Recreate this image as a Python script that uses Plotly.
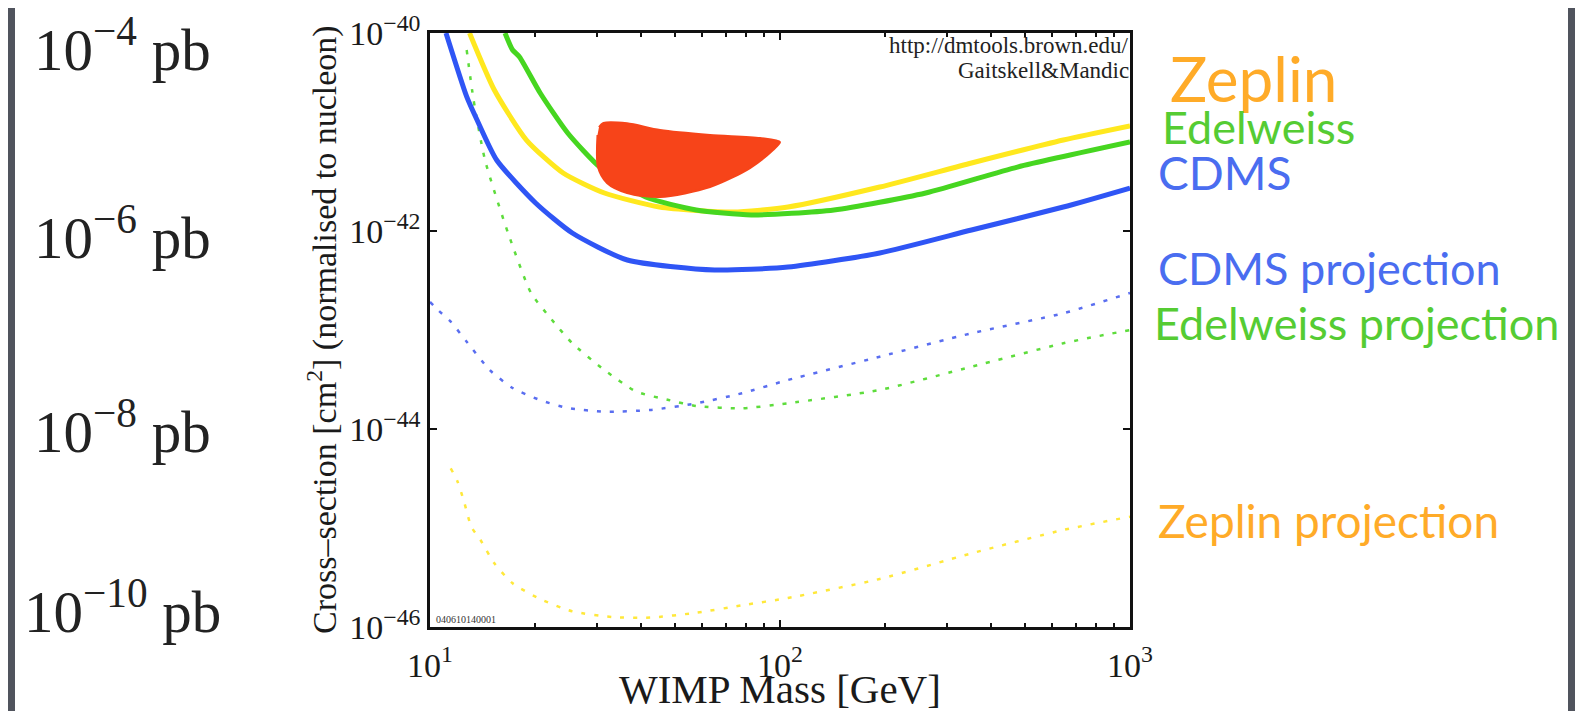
import plotly.graph_objects as go

# ---------------- data (WIMP mass in GeV, log10 cross-section in cm^2) ----------------
cdms_mass = [11.11, 12.73, 13.63, 15.50, 20.03, 25.50, 36.62, 65.02, 105.4, 192.7, 352.5, 644.9, 1000]
cdms_logsig = [-40.00, -40.643, -40.879, -41.283, -41.717, -42.020, -42.293, -42.394, -42.364, -42.222, -41.990, -41.758, -41.566]

zeplin_mass = [12.97, 15.27, 18.86, 24.01, 31.50, 45.26, 73.34, 105.4, 192.7, 352.5, 644.9, 1000]
zeplin_logsig = [-40.00, -40.576, -41.081, -41.414, -41.616, -41.758, -41.808, -41.758, -41.556, -41.313, -41.081, -40.939]

edel_mass = [16.38, 17.22, 18.02, 20.64, 24.74, 30.56, 41.33, 57.63, 82.79, 142.6, 260.8, 476.9, 1000]
edel_logsig = [-40.00, -40.172, -40.242, -40.606, -41.010, -41.354, -41.657, -41.788, -41.838, -41.788, -41.616, -41.354, -41.101]

cdms_proj_mass = [10.0, 10.61, 11.46, 12.73, 14.81, 17.22, 20.62, 24.74, 31.50, 42.6, 57.63, 77.88, 105.4, 192.7, 352.5, 644.9, 1000]
cdms_proj_logsig = [-42.717, -42.808, -42.916, -43.118, -43.404, -43.586, -43.707, -43.788, -43.825, -43.808, -43.741, -43.639, -43.505, -43.270, -43.033, -42.831, -42.626]

edel_proj_mass = [12.73, 13.32, 14.36, 16.71, 19.44, 21.93, 25.50, 31.50, 38.90, 48.08, 57.63, 77.88, 105.4, 192.7, 352.5, 644.9, 1000]
edel_proj_logsig = [-40.172, -40.677, -41.283, -42.020, -42.626, -42.866, -43.134, -43.404, -43.623, -43.707, -43.768, -43.791, -43.740, -43.606, -43.371, -43.134, -43.000]

zeplin_proj_mass = [11.46, 11.99, 12.54, 13.12, 13.94, 15.27, 17.22, 20.62, 25.50, 33.46, 42.6, 57.63, 77.88, 105.4, 192.7, 352.5, 644.9, 1000]
zeplin_proj_logsig = [-44.397, -44.532, -44.747, -44.987, -45.121, -45.357, -45.559, -45.717, -45.842, -45.900, -45.905, -45.856, -45.781, -45.707, -45.515, -45.256, -45.020, -44.886]

dama_mass = [30.4, 31.3, 36.56, 45.42, 63.10, 87.70, 100.0, 95.50, 82.09, 63.10, 45.42, 36.56, 32.04, 30.20, 30.10]
dama_logsig = [-40.95, -40.909, -40.912, -40.980, -41.030, -41.061, -41.101, -41.182, -41.364, -41.556, -41.657, -41.616, -41.515, -41.354, -41.030]

x_tickvals = [10, 100, 1000]
x_ticktext = ["10<sup>1</sup>", "10<sup>2</sup>", "10<sup>3</sup>"]
x_minor = [20, 30, 40, 50, 60, 70, 80, 90, 200, 300, 400, 500, 600, 700, 800, 900]
y_tickvals = [1e-46, 1e-44, 1e-42, 1e-40]
y_ticktext = ["10<sup>\u221246</sup>", "10<sup>\u221244</sup>", "10<sup>\u221242</sup>", "10<sup>\u221240</sup>"]

pb_labels = ["10<sup>\u22124</sup> pb", "10<sup>\u22126</sup> pb", "10<sup>\u22128</sup> pb", "10<sup>\u221210</sup> pb"]
legend_labels = ["Zeplin", "Edelweiss", "CDMS", "CDMS projection", "Edelweiss projection", "Zeplin projection"]


def sig(v):
    return [10 ** e for e in v]


# ---------------- layout geometry (page pixels; the page body adds an 8px margin) ----------------
OFF = 8
W, H = 1583 - 2 * OFF, 719 - 2 * OFF
L, R, T, B = 430 - OFF, 1130 - OFF, 33 - OFF, 627 - OFF


def px(x):
    return (x - OFF - L) / (R - L)


def py(y):
    return (B - (y - OFF)) / (B - T)


SERIF = "Liberation Serif"
SANS = "Lato"

BLUE = "#2f55f5"
YELLOW = "#ffe81e"
GREEN = "#46d620"

fig = go.Figure()

dot = "4px,9px"
fig.add_trace(go.Scatter(x=zeplin_proj_mass, y=sig(zeplin_proj_logsig), mode="lines",
                         line=dict(color="#ffe83a", width=2.5, dash=dot, shape="spline", smoothing=0.6)))
fig.add_trace(go.Scatter(x=edel_proj_mass, y=sig(edel_proj_logsig), mode="lines",
                         line=dict(color="#5edc3c", width=2.5, dash=dot, shape="spline", smoothing=0.6)))
fig.add_trace(go.Scatter(x=cdms_proj_mass, y=sig(cdms_proj_logsig), mode="lines",
                         line=dict(color="#5a6ef0", width=2.5, dash=dot, shape="spline", smoothing=0.6)))

fig.add_trace(go.Scatter(x=cdms_mass, y=sig(cdms_logsig), mode="lines",
                         line=dict(color=BLUE, width=5, shape="spline", smoothing=0.6)))
fig.add_trace(go.Scatter(x=zeplin_mass, y=sig(zeplin_logsig), mode="lines",
                         line=dict(color=YELLOW, width=5, shape="spline", smoothing=0.6)))
fig.add_trace(go.Scatter(x=edel_mass, y=sig(edel_logsig), mode="lines",
                         line=dict(color=GREEN, width=5, shape="spline", smoothing=0.6)))

fig.add_trace(go.Scatter(x=dama_mass, y=sig(dama_logsig), mode="lines", fill="toself",
                         fillcolor="#f74419", line=dict(color="#f74419", width=2, shape="spline", smoothing=0.8)))

axis_common = dict(
    type="log", showgrid=False, zeroline=False, automargin=False,
    showline=True, linecolor="#111111", linewidth=2.5, mirror="ticks",
    ticks="inside", ticklen=7, tickwidth=1.5, tickcolor="#111111",
    tickfont=dict(family=SERIF, size=34, color="#1a1a1a"),
)

fig.update_xaxes(range=[1, 3], tickvals=x_tickvals, ticktext=x_ticktext,
                 minor=dict(tickvals=x_minor, ticks="inside", ticklen=4, tickwidth=1.5,
                            tickcolor="#111111", showgrid=False),
                 ticklabelstandoff=6, **axis_common)
fig.update_yaxes(range=[-46, -40], tickvals=y_tickvals, ticktext=y_ticktext,
                 ticklabelstandoff=0, **axis_common)


def note(x, y, text, size, family, color, xanchor="center", yanchor="middle", angle=0):
    fig.add_annotation(x=px(x), y=py(y), xref="paper", yref="paper", text=text, showarrow=False,
                       xanchor=xanchor, yanchor=yanchor, textangle=angle,
                       font=dict(family=family, size=size, color=color))


# axis titles
note(322, 330, "Cross\u2013section [cm<sup>2</sup>] (normalised to nucleon)", 34, SERIF, "#1a1a1a", angle=-90)
note(780, 714, "WIMP Mass [GeV]", 41, SERIF, "#1a1a1a", yanchor="bottom")
# credits
note(1131, 46, "http://dmtools.brown.edu/", 23, SERIF, "#222222", xanchor="right")
note(1131, 70, "Gaitskell&amp;Mandic", 23, SERIF, "#222222", xanchor="right")
note(434, 619, "040610140001", 10, SERIF, "#333333", xanchor="left")

# pb labels on the left
pb_y = [46, 233, 427, 607]
for t, yy in zip(pb_labels, pb_y):
    note(122, yy, t, 59, SERIF, "#222222")

# coloured labels on the right
leg_pos = [(1168, 78, 62, "#ffab28"), (1160, 127, 45, "#55cc33"), (1156, 172, 46, "#4a6df0"),
           (1156, 268, 45, "#4a6df0"), (1152, 323, 45, "#55cc33"), (1156, 520, 46, "#ffab28")]
for t, (xx, yy, s, c) in zip(legend_labels, leg_pos):
    note(xx, yy, t, s, SANS, c, xanchor="left")

fig.update_layout(
    width=W, height=H, autosize=False,
    margin=dict(l=L, r=W - R, t=T, b=H - B, pad=0, autoexpand=False),
    paper_bgcolor="#50545d", plot_bgcolor="white",
    showlegend=False,
    shapes=[dict(type="rect", xref="paper", yref="paper", layer="below",
                 x0=px(15), x1=px(1568), y0=py(730), y1=py(5),
                 fillcolor="white", line=dict(width=0))],
)

fig.write_html("out.html")
